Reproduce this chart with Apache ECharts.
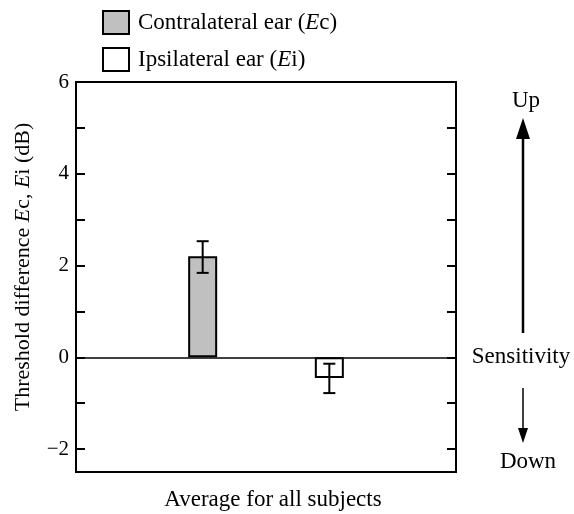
<!DOCTYPE html>
<html><head><meta charset="utf-8">
<script src="https://cdn.jsdelivr.net/npm/echarts@6/dist/echarts.min.js"></script>
<style>html,body{margin:0;padding:0;background:#fff}#c{width:574px;height:514px}</style>
</head><body><div id="c"></div>
<script>
var seriesNames = ['Contralateral ear (Ec)', 'Ipsilateral ear (Ei)'];
var xPositions = [1, 2];
var meanValues = [2.2, -0.45];
var errLow = [1.84, -0.78];
var errHigh = [2.53, -0.14];
var yTicks = [-2, -1, 0, 1, 2, 3, 4, 5, 6];
var yLabels = [-2, 0, 2, 4, 6];
var xTitle = 'Average for all subjects';

var FONT = 'Liberation Serif';
var FS = 23;
var chart = echarts.init(document.getElementById('c'));

var errData = xPositions.map(function (x, i) { return [x, errLow[i], errHigh[i]]; });

var option = {
  animation: false,
  textStyle: { fontFamily: FONT, color: '#000' },
  grid: { left: 76, right: 118, top: 82, bottom: 42, show: true, borderColor: '#000', borderWidth: 2, backgroundColor: 'transparent' },
  legend: {
    orient: 'vertical', left: 97, top: 5, itemWidth: 26, itemHeight: 23, itemGap: 12,
    icon: 'rect',
    data: seriesNames,
    textStyle: {
      fontFamily: FONT, fontSize: FS, color: '#000', padding: [0, 0, 0, 4],
      rich: {
        n: { fontFamily: FONT, fontSize: FS, color: '#000' },
        i: { fontFamily: FONT, fontSize: FS, color: '#000', fontStyle: 'italic' }
      }
    },
    formatter: function (name) {
      var m = name.match(/^(.*\()E(.)\)$/);
      return '{n|' + m[1] + '}{i|E}{n|' + m[2] + ')}';
    }
  },
  xAxis: [{
    type: 'value', min: 0, max: 3, show: false
  }],
  yAxis: [{
    type: 'value', min: -2.5, max: 6, position: 'left',
    axisLine: { show: true, onZero: false, lineStyle: { color: '#000', width: 2 } },
    axisTick: { show: true, inside: true, length: 9, customValues: yTicks, lineStyle: { color: '#000', width: 2 } },
    axisLabel: {
      customValues: yLabels, fontFamily: FONT, fontSize: 21, color: '#000', margin: 7,
      formatter: function (v) { return v < 0 ? '\u2212' + Math.abs(v) : String(v); }
    },
    splitLine: { show: false },
    name: '{n|Threshold difference }{i|E}{n|c, }{i|E}{n|i (dB)}',
    nameLocation: 'middle', nameRotate: 90, nameGap: 42,
    nameTextStyle: {
      padding: [0, 0, 0, 20],
      rich: {
        n: { fontFamily: FONT, fontSize: 22, color: '#000' },
        i: { fontFamily: FONT, fontSize: 22, color: '#000', fontStyle: 'italic' }
      }
    }
  }, {
    type: 'value', min: -2.5, max: 6, position: 'right',
    axisLine: { show: true, onZero: false, lineStyle: { color: '#000', width: 2 } },
    axisTick: { show: true, inside: true, length: 9, customValues: yTicks, lineStyle: { color: '#000', width: 2 } },
    axisLabel: { show: false },
    splitLine: { show: false }
  }],
  series: [{
    name: seriesNames[0], type: 'bar', barWidth: 29, barGap: '-100%',
    itemStyle: { color: '#c0c0c0', borderColor: '#000', borderWidth: 2 },
    data: [[xPositions[0], meanValues[0]]],
    markLine: {
      silent: true, symbol: 'none', label: { show: false },
      lineStyle: { color: '#000', width: 1.5, type: 'solid' },
      data: [{ yAxis: 0 }]
    },
    z: 3
  }, {
    name: seriesNames[1], type: 'bar', barWidth: 29, barGap: '-100%',
    itemStyle: { color: '#ffffff', borderColor: '#000', borderWidth: 2 },
    data: [[xPositions[1], meanValues[1]]],
    z: 3
  }, {
    type: 'custom', name: 'err', z: 5,
    data: errData,
    renderItem: function (params, api) {
      var x = api.value(0);
      var lo = api.coord([x, api.value(1)]);
      var hi = api.coord([x, api.value(2)]);
      var w = 6;
      var st = { stroke: '#000', lineWidth: 2 };
      return {
        type: 'group', children: [
          { type: 'line', shape: { x1: lo[0], y1: lo[1], x2: hi[0], y2: hi[1] }, style: st },
          { type: 'line', shape: { x1: lo[0] - w, y1: lo[1], x2: lo[0] + w, y2: lo[1] }, style: st },
          { type: 'line', shape: { x1: hi[0] - w, y1: hi[1], x2: hi[0] + w, y2: hi[1] }, style: st }
        ]
      };
    }
  }],
  graphic: [
    { type: 'text', x: 273, y: 500, style: { text: xTitle, font: FS + 'px "Liberation Serif"', fill: '#000', align: 'center', verticalAlign: 'middle' } },
    { type: 'text', x: 526, y: 101, style: { text: 'Up', font: FS + 'px "Liberation Serif"', fill: '#000', align: 'center', verticalAlign: 'middle' } },
    { type: 'line', shape: { x1: 523, y1: 333, x2: 523, y2: 136 }, style: { stroke: '#000', lineWidth: 2.5 } },
    { type: 'polygon', shape: { points: [[523, 118], [516, 139], [530, 139]] }, style: { fill: '#000' } },
    { type: 'text', x: 521, y: 357, style: { text: 'Sensitivity', font: FS + 'px "Liberation Serif"', fill: '#000', align: 'center', verticalAlign: 'middle' } },
    { type: 'line', shape: { x1: 523, y1: 388, x2: 523, y2: 430 }, style: { stroke: '#000', lineWidth: 1.5 } },
    { type: 'polygon', shape: { points: [[523, 443], [518, 428], [528, 428]] }, style: { fill: '#000' } },
    { type: 'text', x: 528, y: 462, style: { text: 'Down', font: FS + 'px "Liberation Serif"', fill: '#000', align: 'center', verticalAlign: 'middle' } }
  ]
};
chart.setOption(option);
</script>
</body></html>
